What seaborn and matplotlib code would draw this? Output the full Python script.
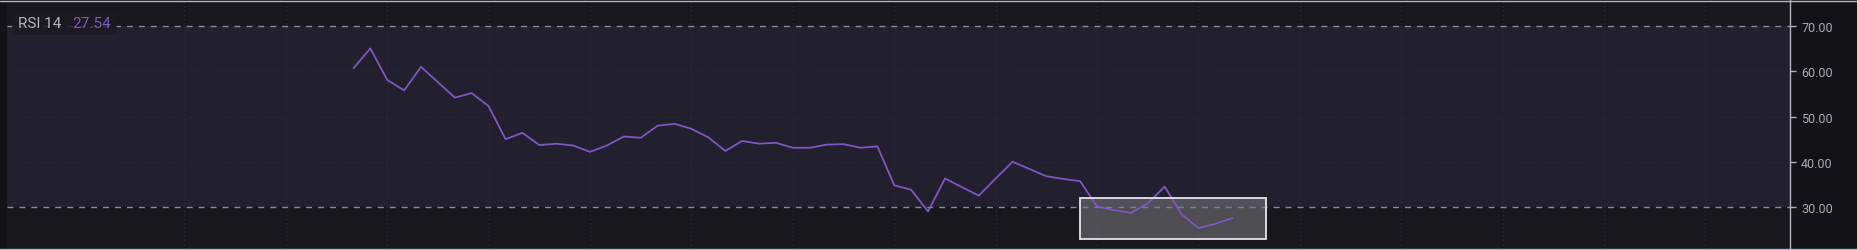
import numpy as np
import pandas as pd
import seaborn as sns
import matplotlib
matplotlib.use("Agg")
import matplotlib.pyplot as plt
from matplotlib.lines import Line2D
from matplotlib.patches import Rectangle

# ---- data ----
rsi_values = [60.7, 65.1, 58.1, 55.8, 61.0, 57.6, 54.2, 55.2, 52.3, 45.0,
              46.4, 43.7, 44.0, 43.6, 42.2, 43.6, 45.6, 45.3, 48.0, 48.4,
              47.3, 45.4, 42.4, 44.6, 44.0, 44.2, 43.1, 43.1, 43.8, 43.9,
              43.1, 43.4, 34.8, 33.8, 29.0, 36.3, 34.4, 32.5, 36.3, 40.0,
              38.4, 36.8, 36.2, 35.7, 30.1, 29.3, 28.7, 30.8, 34.5, 28.4,
              25.3, 26.3, 27.54]
bar_index = list(range(len(rsi_values)))
y_ticks = [30, 40, 50, 60, 70]
y_tick_labels = ["30.00", "40.00", "50.00", "60.00", "70.00"]
upper_band = 70
lower_band = 30
title_name = "RSI 14"
title_value = "27.54"
box_x = [43, 54]
box_y = [22.9, 32.0]

df = pd.DataFrame({"bar": bar_index, "rsi": rsi_values})

sns.set_theme(style="dark")
plt.rcParams['font.family'] = ['Roboto', 'DejaVu Sans']

BG = "#17171c"
BAND = "#221f2e"
PURPLE = "#7e57c2"
GRID = "#2b2a36"
TEXT = "#a9acb4"

W, H = 1857, 251
fig = plt.figure(figsize=(W / 100, H / 100), dpi=100, facecolor="#131317")
ax = fig.add_axes([7 / W, 1 / H, (1790 - 7) / W, 249 / H])
ax.set_facecolor(BG)

ax.set_xlim(-20.5, 85.0)
ax.set_ylim(20.7, 75.8)

# band
ax.axhspan(lower_band, upper_band, color=BAND, zorder=0, lw=0)

# grid
for gx in range(-10, 86, 6):
    ax.axvline(gx, color=GRID, lw=1, ls=(0, (1, 2)), zorder=1)
for gy in [40, 50, 60]:
    ax.axhline(gy, color=GRID, lw=1, ls=(0, (1, 2)), zorder=1)

# band borders
for gy in [upper_band, lower_band]:
    ax.axhline(gy, color="#8a8a96", lw=1, ls=(0, (4.3, 4.3)), zorder=2)

# highlight box
ax.add_patch(Rectangle((box_x[0], box_y[0]), box_x[1] - box_x[0], box_y[1] - box_y[0],
                       facecolor="#7a7a80", alpha=0.55, edgecolor="none", zorder=3))
ax.add_patch(Rectangle((box_x[0], box_y[0]), box_x[1] - box_x[0], box_y[1] - box_y[0],
                       facecolor="none", edgecolor="#e6e6ea", lw=1.3, zorder=5))

sns.lineplot(data=df, x="bar", y="rsi", ax=ax, color=PURPLE, lw=1.3, zorder=4)

ax.set_xlabel("")
ax.set_ylabel("")
ax.set_xticks([])
ax.yaxis.tick_right()
ax.set_yticks(y_ticks)
ax.set_yticklabels(y_tick_labels, fontsize=9, color=TEXT)
ax.tick_params(axis="y", which="both", right=True, length=4, width=1,
               color="#b2b5be", pad=4)
ax.grid(False)

for s in ["left", "top", "bottom"]:
    ax.spines[s].set_visible(False)
ax.spines["right"].set_color("#b2b5be")
ax.spines["right"].set_linewidth(1)

# full-width top and bottom borders
fig.add_artist(Line2D([0, 1], [1 - 1.5 / H, 1 - 1.5 / H], color="#b2b5be", lw=1))
fig.add_artist(Line2D([0, 1], [1.0 / H, 1.0 / H], color="#b2b5be", lw=1))

# legend title
ax.add_patch(Rectangle((12 / W, (H - 36) / H), 105 / W, 22 / H, transform=fig.transFigure,
                       facecolor="#1b1a22", alpha=0.8, edgecolor="none", zorder=6))
fig.text(18 / W, (H - 28) / H, title_name, color="#b2b5be", fontsize=11, ha="left",
         va="baseline", zorder=7)
fig.text(72 / W, (H - 28) / H, title_value, color=PURPLE, fontsize=11, ha="left",
         va="baseline", zorder=7)

fig.savefig("out.png", dpi=100, facecolor=fig.get_facecolor())
